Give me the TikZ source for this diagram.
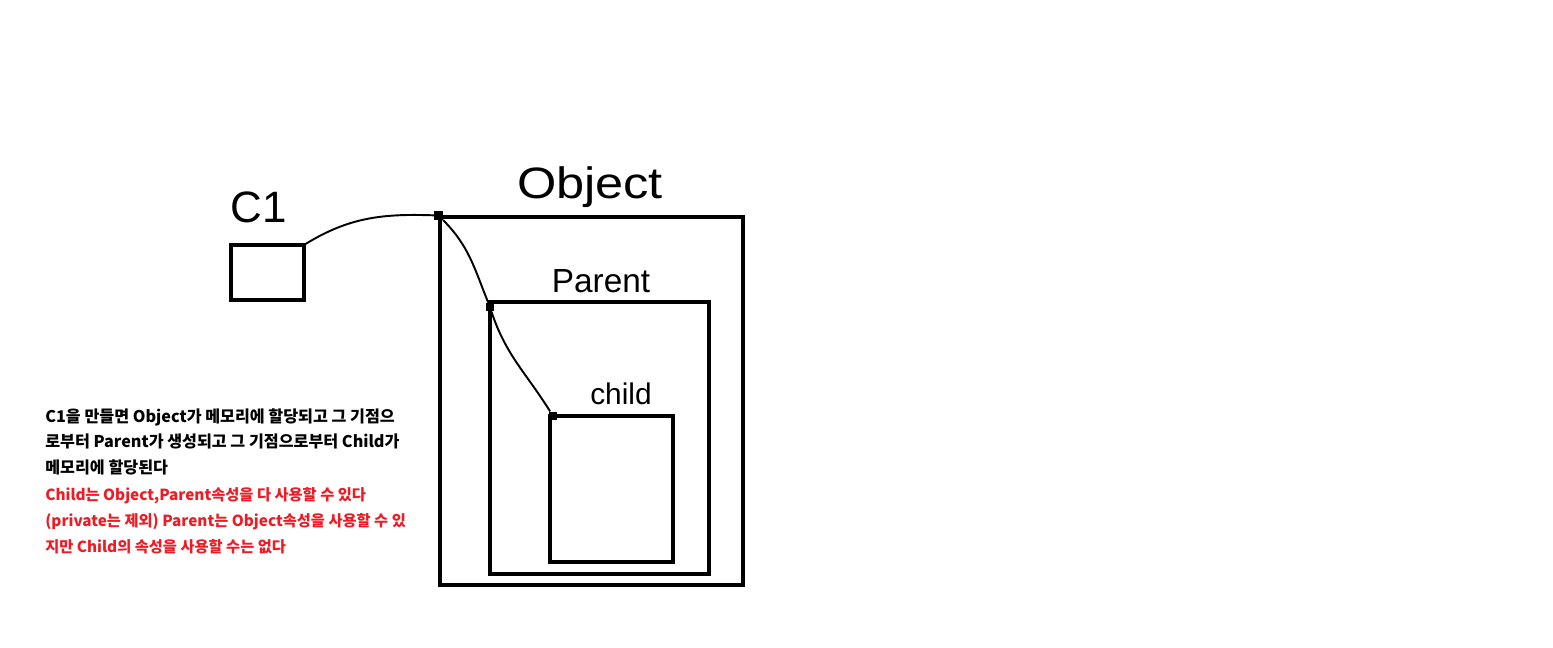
\documentclass[tikz,border=0pt]{standalone}
\usepackage{fontspec}
\newfontfamily\krfont{Noto Sans CJK KR}
\newfontfamily\handfont{Liberation Sans}
\definecolor{PaintRed}{HTML}{ED1C24}
\usetikzlibrary{positioning}

\begin{document}
\begin{tikzpicture}[x=0.02cm,y=-0.02cm,
  box/.style={draw,line width=2.3pt,inner sep=0,outer sep=0,anchor=north west},
  joint/.style={fill,inner sep=0,minimum size=0.17cm},
  wire/.style={line width=1.1pt},
  hand/.style={inner sep=0,font=\handfont\fontsize{25pt}{25pt}\selectfont},
  note/.style={inner sep=0,anchor=north west,align=left,font=\krfont\bfseries\fontsize{9.2pt}{14.74pt}\selectfont}]
  \useasboundingbox (0,0) rectangle (1553,648);
  % boxes
  \node[box,minimum width=1.46cm,minimum height=1.10cm] (c1) at (231,245) {};
  \node[box,minimum width=6.06cm,minimum height=7.36cm] (obj) at (440,217) {};
  \node[box,minimum width=4.38cm,minimum height=5.44cm] (par) at (490,302) {};
  \node[box,minimum width=2.46cm,minimum height=2.92cm] (chd) at (550,416) {};
  % handwritten labels
  \node[hand] (lc1) at (259,207) {C1};
  \node[hand,xscale=1.15] (lobj) at (590,187) {Object};
  \node[hand,font=\handfont\fontsize{19pt}{19pt}\selectfont] (lpar) at (601,281) {Parent};
  \node[hand,font=\handfont\fontsize{17pt}{17pt}\selectfont] (lchd) at (621,394) {child};
  % joints and links
  \node[joint] (j1) at ([xshift=-0.03cm,yshift=0.03cm]obj.north west) {};
  \node[joint] (j2) at ([yshift=-0.1cm]par.north west) {};
  \node[joint] (j3) at ([xshift=0.06cm]chd.north west) {};
  \draw[wire] (c1.north east) to[out=32,in=178] (j1);
  \draw[wire] (j1) to[out=-45,in=112] (j2);
  \draw[wire] (j2) to[out=-72,in=122] (j3);
  % notes
  \node[note] (txt1) at (45,408) {C1을 만들면 Object가 메모리에 할당되고 그 기점으\\로부터 Parent가 생성되고 그 기점으로부터 Child가\\메모리에 할당된다};
  \node[note,text=PaintRed,font=\krfont\bfseries\fontsize{8.7pt}{14.74pt}\selectfont] (txt2) at (45,487) {Child는 Object,Parent속성을 다 사용할 수 있다\\(private는 제외) Parent는 Object속성을 사용할 수 있\\지만 Child의 속성을 사용할 수는 없다};
\end{tikzpicture}
\end{document}
